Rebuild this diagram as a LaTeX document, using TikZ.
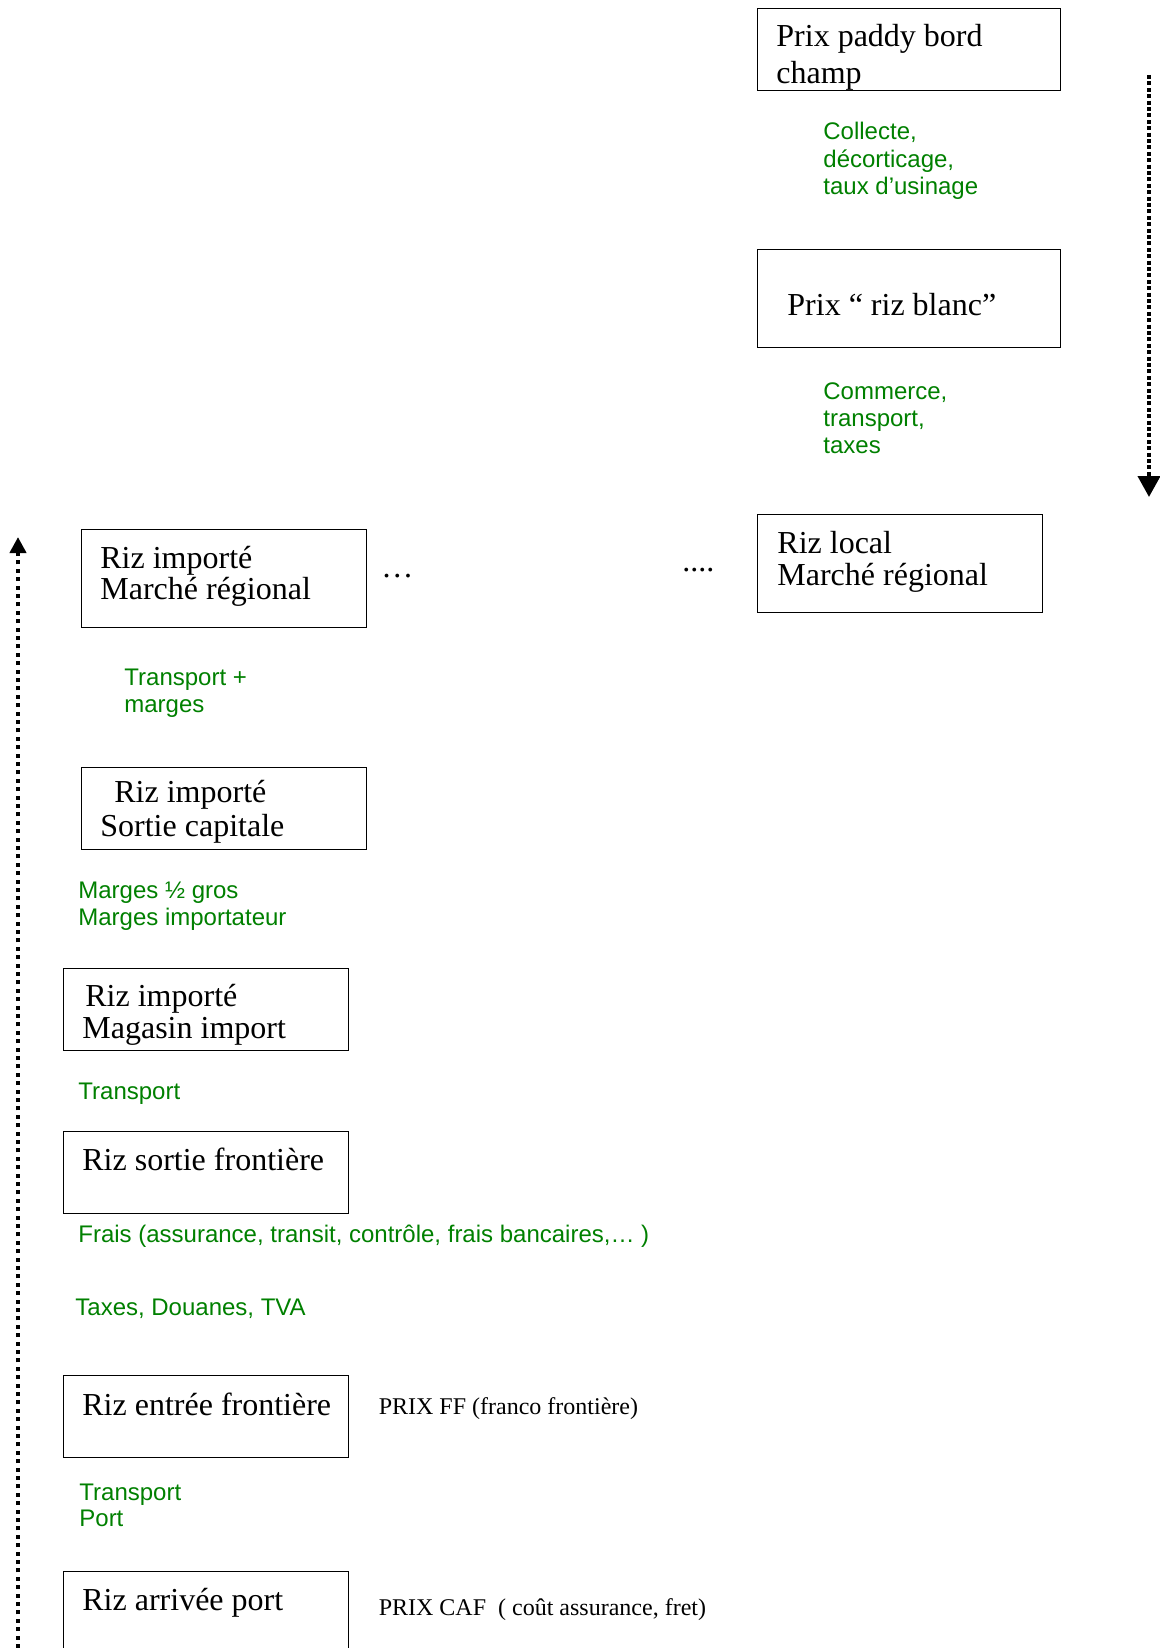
\documentclass[tikz,border=0pt]{standalone}
\usepackage{fontspec}
\setmainfont{Liberation Serif}
\newfontfamily\notefont{Liberation Sans}
\usetikzlibrary{arrows.meta}
\definecolor{notegreen}{RGB}{0,128,0}
\tikzset{
  pricebox/.style  = {shape=rectangle, draw, line width=0.6pt,
                      inner sep=0pt, anchor=north west,
                      minimum width=142.5pt, minimum height=41pt},
  tallbox/.style   = {pricebox, minimum height=49pt},
  boxtext/.style   = {anchor=base west, inner sep=0pt, align=left,
                      font=\fontsize{16}{16}\selectfont},
  costnote/.style  = {anchor=base west, inner sep=0pt, align=left,
                      text=notegreen, font=\notefont\fontsize{12}{13.5}\selectfont},
  pricenote/.style = {anchor=base west, inner sep=0pt,
                      font=\fontsize{12}{14}\selectfont},
  flow/.style      = {line width=2pt, dash pattern=on 2pt off 1.2pt}
}

\begin{document}
\begin{tikzpicture}[x=0.5pt, y=-0.5pt]
  \useasboundingbox (0,0) rectangle (1160,1648);

  % local rice, going down (multi-line texts sit on their last line)
  \node [tallbox, minimum width=151.5pt, minimum height=41pt] (paddy) at (757,8) {};
  \node [boxtext, font=\fontsize{16}{18.3}\selectfont] (paddytxt) at (776,83.3) {Prix paddy bord\\champ};
  \node [costnote, font=\notefont\fontsize{12}{13.8}\selectfont] (collecte) at (823,195) {Collecte,\\décorticage,\\taux d’usinage};
  \node [tallbox, minimum width=151.5pt] (blanc) at (757,249) {};
  \node [boxtext] (blanctxt) at (787,315) {Prix “ riz blanc”};
  \node [costnote] (commerce) at (823,453.3) {Commerce,\\transport,\\taxes};
  \node [tallbox] (local) at (757,514) {};
  \node [boxtext] (localtxt) at (777,585) {Riz local\\Marché régional};
  \node [boxtext] (dotsright) at (682,571) {....};

  % imported rice, going up
  \node [tallbox] (marche) at (81,529) {};
  \node [boxtext, font=\fontsize{16}{15.5}\selectfont] (marchetxt) at (100,599.3) {Riz importé\\Marché régional};
  \node [boxtext] (dotsleft) at (381,577) {…};
  \node [costnote] (transmarges) at (124,712.7) {Transport +\\marges};
  \node [pricebox] (capitale) at (81,767) {};
  \node [boxtext, font=\fontsize{16}{17}\selectfont] (capitaletxt) at (100,836.7) {\hspace*{7pt}Riz importé\\Sortie capitale};
  \node [costnote, font=\notefont\fontsize{12}{13.3}\selectfont] (margesgros) at (78,925.5) {Marges ½ gros\\Marges importateur};
  \node [pricebox] (magasin) at (63,968) {};
  \node [boxtext, font=\fontsize{16}{15.8}\selectfont] (magasintxt) at (82,1038.3) {\hspace*{1.5pt}Riz importé\\Magasin import};
  \node [costnote] (transport) at (78,1099) {Transport};
  \node [pricebox] (sortie) at (63,1131) {};
  \node [boxtext] (sortietxt) at (82,1170.7) {Riz sortie frontière};
  \node [costnote] (frais) at (78,1242.7) {Frais (assurance, transit, contrôle, frais bancaires,… )};
  \node [costnote] (taxes) at (75,1315) {Taxes, Douanes, TVA};
  \node [pricebox] (entree) at (63,1375) {};
  \node [boxtext] (entreetxt) at (82,1415) {Riz entrée frontière};
  \node [pricenote] (prixff) at (378.4,1414) {PRIX FF (franco frontière)};
  \node [costnote, font=\notefont\fontsize{12}{13.3}\selectfont] (transport-port) at (79,1526.7) {Transport\\Port};
  \node [pricebox] (arrivee) at (63,1571) {};
  \node [boxtext] (arriveetxt) at (82,1610) {Riz arrivée port};
  \node [pricenote] (prixcaf) at (378.4,1615) {PRIX CAF~~( coût assurance, fret)};

  % the two directions
  \coordinate (downstart) at (1149,75);
  \coordinate (downend) at (1149,497);
  \draw [flow, -{Triangle[width=11pt,length=10.5pt]}] (downstart) -- (downend);
  \coordinate (upstart) at (18,1648);
  \coordinate (upend) at (18,537);
  \draw [flow, dash pattern=on 2pt off 2.2pt, -{Triangle[width=8pt,length=8pt]}] (upstart) -- (upend);
\end{tikzpicture}
\end{document}
